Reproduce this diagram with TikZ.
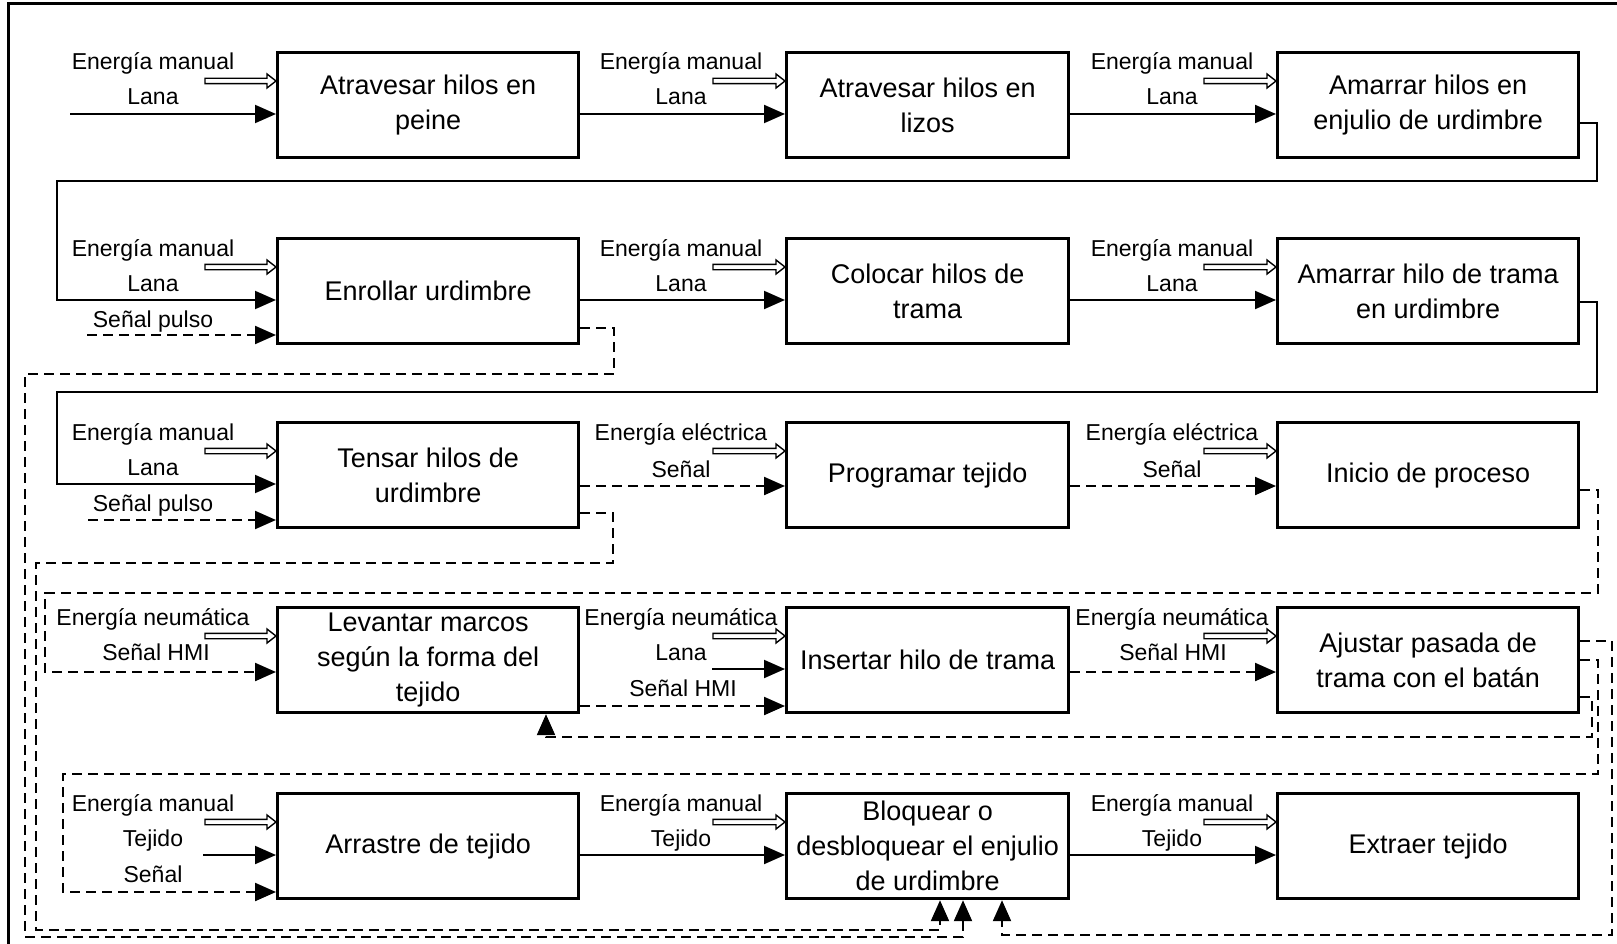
\documentclass[tikz,border=0pt]{standalone}
\usepackage{fontspec}
\setmainfont{Liberation Sans}
\usetikzlibrary{arrows.meta,calc}

\tikzset{
  stepbox/.style={draw, line width=3.2pt, inner sep=0pt, minimum width=#1,
    minimum height=105pt, anchor=north west, align=center,
    font=\fontsize{27}{35}\selectfont},
  lbl/.style={font=\fontsize{23}{27}\selectfont, anchor=base, inner sep=0pt},
  flow/.style={line width=2pt, line join=miter, -{Triangle[length=21pt,width=18pt]}},
  sig/.style={flow, line width=2.2pt, dash pattern=on 10pt off 6pt},
  energy/.style={line width=1.4pt, line join=miter, fill=white},
  frame/.style={line width=3pt}
}

% hollow double-shaft arrow for energy inputs: #1 tail coordinate, #2 target box
\newcommand\energyarrow[2]{%
  \path (#2.west |- #1) coordinate (#1h);
  \draw[energy] ($(#1)+(0,-2.7)$) -- ($(#1h)+(-9,-2.7)$) -- ($(#1h)+(-9,-7)$)
    -- (#1h) -- ($(#1h)+(-9,7)$) -- ($(#1h)+(-9,2.7)$) -- ($(#1)+(0,2.7)$) -- cycle;}

\begin{document}
\begin{tikzpicture}[x=1pt,y=-1pt]
\clip (0,0) rectangle (1617,944);
\draw[frame] (8,4) rectangle (1640,970);

% ---------- process boxes ----------
\node[stepbox=301pt] (b11) at (276,51)  {Atravesar hilos en\\peine};
\node[stepbox=282pt] (b12) at (785,51)  {Atravesar hilos en\\lizos};
\node[stepbox=301pt] (b13) at (1276,51) {Amarrar hilos en\\enjulio de urdimbre};

\node[stepbox=301pt] (b21) at (276,237)  {Enrollar urdimbre};
\node[stepbox=282pt] (b22) at (785,237)  {Colocar hilos de\\trama};
\node[stepbox=301pt] (b23) at (1276,237) {Amarrar hilo de trama\\en urdimbre};

\node[stepbox=301pt] (b31) at (276,421)  {Tensar hilos de\\urdimbre};
\node[stepbox=282pt] (b32) at (785,421)  {Programar tejido};
\node[stepbox=301pt] (b33) at (1276,421) {Inicio de proceso};

\node[stepbox=301pt] (b41) at (276,606)  {Levantar marcos\\según la forma del\\tejido};
\node[stepbox=282pt] (b42) at (785,606)  {Insertar hilo de trama};
\node[stepbox=301pt] (b43) at (1276,606) {Ajustar pasada de\\trama con el batán};

\node[stepbox=301pt] (b51) at (276,792)  {Arrastre de tejido};
\node[stepbox=282pt] (b52) at (785,792)  {Bloquear o\\desbloquear el enjulio\\de urdimbre};
\node[stepbox=301pt] (b53) at (1276,792) {Extraer tejido};

% ---------- input labels ----------
\node[lbl] (l11a) at (153,70)  {Energía manual};
\node[lbl] (l11b) at (153,105) {Lana};
\node[lbl] (l12a) at (681,70)  {Energía manual};
\node[lbl] (l12b) at (681,105) {Lana};
\node[lbl] (l13a) at (1172,70) {Energía manual};
\node[lbl] (l13b) at (1172,105){Lana};

\node[lbl] (l21a) at (153,256) {Energía manual};
\node[lbl] (l21b) at (153,291) {Lana};
\node[lbl] (l21c) at (153,327) {Señal pulso};
\node[lbl] (l22a) at (681,256) {Energía manual};
\node[lbl] (l22b) at (681,291) {Lana};
\node[lbl] (l23a) at (1172,256){Energía manual};
\node[lbl] (l23b) at (1172,291){Lana};

\node[lbl] (l31a) at (153,440) {Energía manual};
\node[lbl] (l31b) at (153,475) {Lana};
\node[lbl] (l31c) at (153,511) {Señal pulso};
\node[lbl] (l32a) at (681,440) {Energía eléctrica};
\node[lbl] (l32b) at (681,477) {Señal};
\node[lbl] (l33a) at (1172,440){Energía eléctrica};
\node[lbl] (l33b) at (1172,477){Señal};

\node[lbl] (l41a) at (153,625) {Energía neumática};
\node[lbl] (l41b) at (156,660) {Señal HMI};
\node[lbl] (l42a) at (681,625) {Energía neumática};
\node[lbl] (l42b) at (681,660) {Lana};
\node[lbl] (l42c) at (683,696) {Señal HMI};
\node[lbl] (l43a) at (1172,625){Energía neumática};
\node[lbl] (l43b) at (1173,660){Señal HMI};

\node[lbl] (l51a) at (153,811) {Energía manual};
\node[lbl] (l51b) at (153,846) {Tejido};
\node[lbl] (l51c) at (153,882) {Señal};
\node[lbl] (l52a) at (681,811) {Energía manual};
\node[lbl] (l52b) at (681,846) {Tejido};
\node[lbl] (l53a) at (1172,811){Energía manual};
\node[lbl] (l53b) at (1172,846){Tejido};

% ---------- energy inputs ----------
\coordinate (e11) at (205,81);   \energyarrow{e11}{b11}
\coordinate (e12) at (713,81);   \energyarrow{e12}{b12}
\coordinate (e13) at (1204,81);  \energyarrow{e13}{b13}
\coordinate (e21) at (205,267);  \energyarrow{e21}{b21}
\coordinate (e22) at (713,267);  \energyarrow{e22}{b22}
\coordinate (e23) at (1204,267); \energyarrow{e23}{b23}
\coordinate (e31) at (205,451);  \energyarrow{e31}{b31}
\coordinate (e32) at (713,451);  \energyarrow{e32}{b32}
\coordinate (e33) at (1204,451); \energyarrow{e33}{b33}
\coordinate (e41) at (205,636);  \energyarrow{e41}{b41}
\coordinate (e42) at (713,636);  \energyarrow{e42}{b42}
\coordinate (e43) at (1204,636); \energyarrow{e43}{b43}
\coordinate (e51) at (205,822);  \energyarrow{e51}{b51}
\coordinate (e52) at (713,822);  \energyarrow{e52}{b52}
\coordinate (e53) at (1204,822); \energyarrow{e53}{b53}

% ---------- free material / signal inputs ----------
\coordinate (t11) at (70,114);  \draw[flow] (t11) -- (t11 -| b11.west);
\coordinate (t21) at (87,335);  \draw[sig]  (t21) -- (t21 -| b21.west);
\coordinate (t31) at (88,520);  \draw[sig]  (t31) -- (t31 -| b31.west);
\coordinate (t42) at (712,669); \draw[flow] (t42) -- (t42 -| b42.west);
\coordinate (t51) at (203,855); \draw[flow] (t51) -- (t51 -| b51.west);

% ---------- material flow along the rows ----------
\draw[flow] ($(b11.north east)+(0,63)$) -- ($(b12.north west)+(0,63)$);
\draw[flow] ($(b12.north east)+(0,63)$) -- ($(b13.north west)+(0,63)$);
\draw[flow] ($(b21.north east)+(0,63)$) -- ($(b22.north west)+(0,63)$);
\draw[flow] ($(b22.north east)+(0,63)$) -- ($(b23.north west)+(0,63)$);
\draw[sig]  ($(b31.north east)+(0,65)$) -- ($(b32.north west)+(0,65)$);
\draw[sig]  ($(b32.north east)+(0,65)$) -- ($(b33.north west)+(0,65)$);
\draw[sig]  ($(b41.north east)+(0,100)$) -- ($(b42.north west)+(0,100)$);
\draw[sig]  ($(b42.north east)+(0,66)$) -- ($(b43.north west)+(0,66)$);
\draw[flow] ($(b51.north east)+(0,63)$) -- ($(b52.north west)+(0,63)$);
\draw[flow] ($(b52.north east)+(0,63)$) -- ($(b53.north west)+(0,63)$);

% ---------- row-to-row returns ----------
\draw[flow] ($(b13.north east)+(0,72)$) -- (1597,123) |- (57,181) |- ($(b21.north west)+(0,63)$);
\draw[flow] ($(b23.north east)+(0,65)$) -- (1597,302) |- (57,392) |- ($(b31.north west)+(0,63)$);
\draw[sig]  ($(b33.north east)+(0,69)$) -- (1598,490) |- (45,593) |- ($(b41.north west)+(0,66)$);
\draw[sig]  ($(b43.north east)+(0,54)$) -- (1598,660) |- (63,774) |- ($(b51.north west)+(0,100)$);

% ---------- signal feedback loops ----------
\draw[sig] ($(b43.north east)+(0,91)$) -- (1592,697) |- (546,737) -- ($(b41.south west)+(270,0)$);
\draw[sig] ($(b43.north east)+(0,35)$) -- (1612,641) |- (1002,935) -- ($(b52.south west)+(217,0)$);
\draw[sig] ($(b21.north east)+(0,91)$) -- (614,328) |- (25,374) |- (963,937) -- ($(b52.south west)+(178,0)$);
\draw[sig] ($(b31.north east)+(0,92)$) -- (613,513) |- (36,563) |- (940,930) -- ($(b52.south west)+(155,0)$);
\end{tikzpicture}
\end{document}
